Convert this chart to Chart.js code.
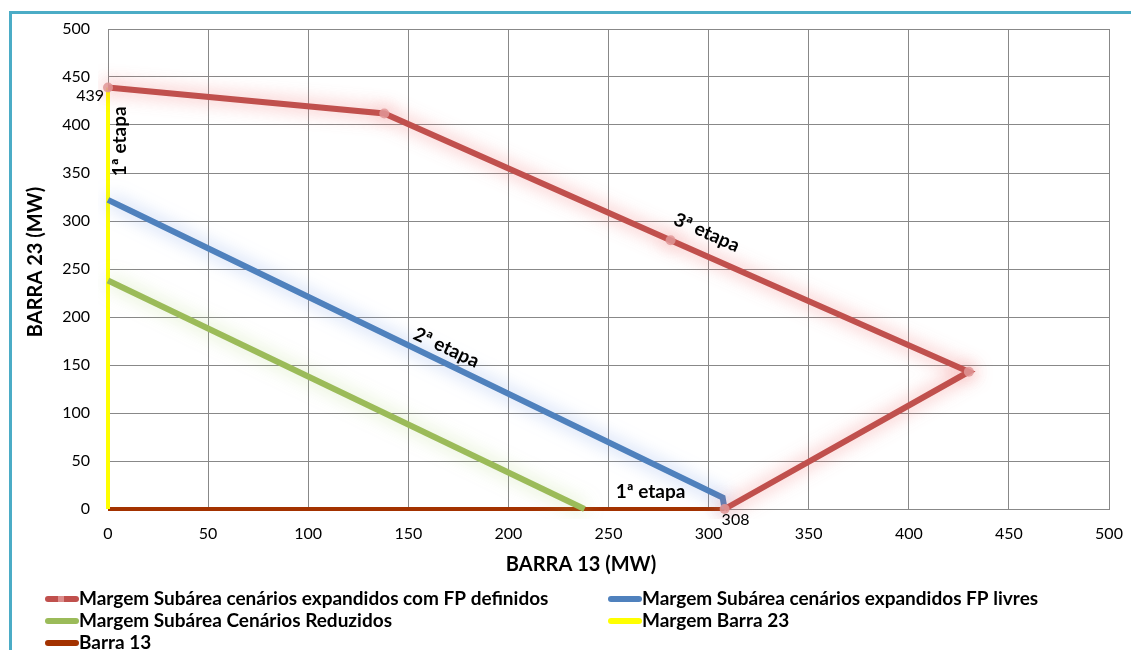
<!DOCTYPE html>
<html>
<head>
<meta charset="utf-8">
<script src="https://cdn.jsdelivr.net/npm/chart.js@4/dist/chart.umd.min.js"></script>
<style>
  html, body { margin: 0; padding: 0; background: #fff; }
  #wrap { position: relative; width: 1131px; height: 650px; }
  #frame { position: absolute; left: 9px; top: 11px; right: -5px; bottom: -5px;
           border-left: 3px solid #4bacc6; border-top: 3px solid #4bacc6; }
  canvas { position: absolute; left: 0; top: 0; }
</style>
</head>
<body>
<div id="wrap">
  <div id="frame"></div>
  <canvas id="chart" width="1131" height="650"></canvas>
</div>
<script>
// Series (x = BARRA 13 MW, y = BARRA 23 MW)
const fpDefinidos = [
  { x: 0, y: 439 }, { x: 138, y: 412 }, { x: 281, y: 280 }, { x: 430, y: 143 }, { x: 308, y: 0 }
];
const fpLivres = [
  { x: 0, y: 322 }, { x: 11, y: 311 }, { x: 307, y: 12 }, { x: 308, y: 0 }
];
const reduzidos = [ { x: 0, y: 238 }, { x: 238, y: 0 } ];
const margemBarra23 = [ { x: 0, y: 0 }, { x: 0, y: 439 } ];
const barra13 = [ { x: 0, y: 0 }, { x: 308, y: 0 } ];

const seriesNames = [
  "Margem Subárea cenários expandidos com FP definidos",
  "Margem Subárea cenários expandidos FP livres",
  "Margem Subárea Cenários Reduzidos",
  "Margem Barra 23",
  "Barra 13"
];

const xTitle = "BARRA 13 (MW)";
const yTitle = "BARRA 23 (MW)";
const axisMin = 0, axisMax = 500, axisStep = 50;

// text annotations placed in data coordinates
const notes = [
  { text: "1ª etapa", x: 6, y: 383, angle: -90, size: 19 },
  { text: "1ª etapa", x: 271, y: 18, angle: 0, size: 19 },
  { text: "2ª etapa", x: 169, y: 168, angle: 25, size: 19 },
  { text: "3ª etapa", x: 299, y: 288, angle: 24, size: 19 },
  { text: "439", x: 0, y: 430, angle: 0, size: 16, align: "right", dx: -4 },
  { text: "308", x: 308, y: 0, angle: 0, size: 16, align: "left", dx: -3, dy: 11 }
];

const FONT = "Lato, 'Open Sans', sans-serif";

const glowPlugin = {
  id: "glow",
  beforeDatasetDraw(chart, args) {
    const ds = chart.data.datasets[args.index];
    chart.ctx.save();
    if (ds.glowColor) {
      chart.ctx.shadowColor = ds.glowColor;
      chart.ctx.shadowBlur = 18;
    }
  },
  afterDatasetDraw(chart) {
    chart.ctx.restore();
  }
};

const notesPlugin = {
  id: "notes",
  afterDatasetsDraw(chart) {
    const { ctx, scales } = chart;
    notes.forEach(n => {
      const px = scales.x.getPixelForValue(n.x) + (n.dx || 0);
      const py = scales.y.getPixelForValue(n.y) + (n.dy || 0);
      ctx.save();
      ctx.translate(px, py);
      ctx.rotate(n.angle * Math.PI / 180);
      ctx.font = (n.align ? "" : "bold ") + n.size + "px " + FONT;
      ctx.fillStyle = "#000";
      ctx.textAlign = n.align || "center";
      ctx.textBaseline = "middle";
      ctx.fillText(n.text, 0, 0);
      ctx.restore();
    });

    // axis titles (Excel puts them slightly off the plot centre)
    ctx.save();
    ctx.fillStyle = "#000";
    ctx.font = "bold 20px " + FONT;
    ctx.textAlign = "center";
    ctx.textBaseline = "middle";
    ctx.fillText(xTitle, 581, 565);
    ctx.translate(36, 262);
    ctx.rotate(-Math.PI / 2);
    ctx.fillText(yTitle, 0, 0);
    ctx.restore();
  }
};

const legendPlugin = {
  id: "bottomLegend",
  afterDraw(chart) {
    const ctx = chart.ctx;
    const cols = [45, 608];
    const rows = [599, 621, 643];
    chart.data.datasets.forEach((ds, i) => {
      const x = cols[i % 2];
      const y = rows[Math.floor(i / 2)];
      ctx.save();
      ctx.strokeStyle = ds.borderColor;
      ctx.lineWidth = 6;
      ctx.lineCap = "round";
      ctx.beginPath();
      ctx.moveTo(x + 3, y);
      ctx.lineTo(x + 31, y);
      ctx.stroke();
      if (ds.pointRadius > 0) {
        ctx.fillStyle = ds.pointBackgroundColor;
        ctx.fillRect(x + 13, y - 3, 6, 6);
      }
      ctx.fillStyle = "#000";
      ctx.font = "bold 19px " + FONT;
      ctx.textBaseline = "middle";
      ctx.fillText(ds.label, x + 34, y);
      ctx.restore();
    });
  }
};

new Chart(document.getElementById("chart"), {
  type: "scatter",
  data: {
    datasets: [
      { label: seriesNames[0], data: fpDefinidos, showLine: true, borderColor: "#c0504d", borderWidth: 6,
        pointRadius: 5, pointBackgroundColor: "rgba(224,150,150,0.85)", pointBorderWidth: 0,
        glowColor: "rgba(240,110,110,0.7)", clip: 10 },
      { label: seriesNames[1], data: fpLivres, showLine: true, borderColor: "#4f81bd", borderWidth: 6,
        pointRadius: 0, glowColor: "rgba(110,150,230,0.6)", clip: 10 },
      { label: seriesNames[2], data: reduzidos, showLine: true, borderColor: "#9bbb59", borderWidth: 6,
        pointRadius: 0, glowColor: "rgba(170,210,110,0.55)", clip: 10 },
      { label: seriesNames[3], data: margemBarra23, showLine: true, borderColor: "#ffff00", borderWidth: 4,
        pointRadius: 0, clip: 10 },
      { label: seriesNames[4], data: barra13, showLine: true, borderColor: "#a33200", borderWidth: 4,
        pointRadius: 0, clip: 10 }
    ]
  },
  options: {
    responsive: false,
    animation: false,
    layout: { padding: { top: 29, right: 22, left: 0, bottom: 0 } },
    elements: { line: { tension: 0, borderCapStyle: "butt", borderJoinStyle: "miter" } },
    plugins: { legend: { display: false }, tooltip: { enabled: false } },
    scales: {
      x: {
        type: "linear", min: axisMin, max: axisMax,
        ticks: { stepSize: axisStep, padding: 15, color: "#000", font: { family: FONT, size: 16 } },
        grid: { color: "#888", lineWidth: 1, drawTicks: false },
        border: { color: "#888" },
        afterFit(scale) { scale.height = 141; scale.paddingRight = 0; scale.paddingLeft = 0; }
      },
      y: {
        type: "linear", min: axisMin, max: axisMax,
        ticks: { stepSize: axisStep, padding: 18, color: "#000", font: { family: FONT, size: 16 } },
        grid: { color: "#888", lineWidth: 1, drawTicks: false },
        border: { color: "#888" },
        afterFit(scale) { scale.width = 108; }
      }
    }
  },
  plugins: [glowPlugin, notesPlugin, legendPlugin]
});
</script>
</body>
</html>
